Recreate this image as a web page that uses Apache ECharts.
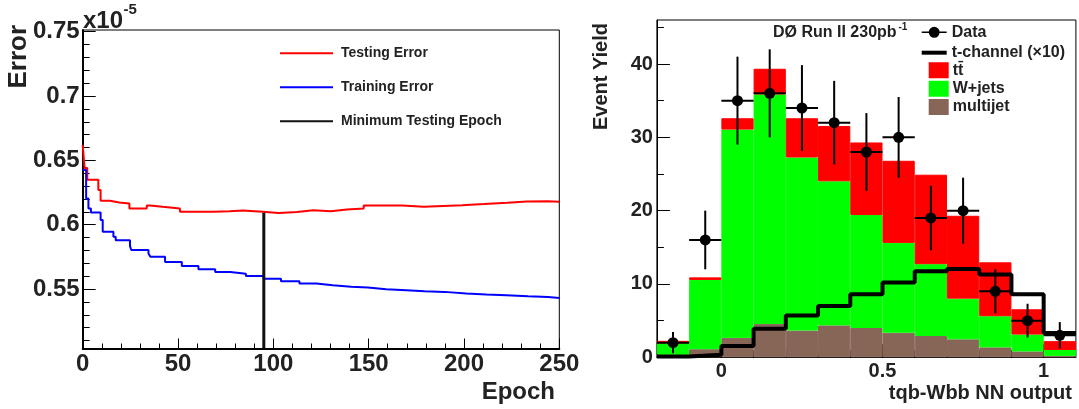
<!DOCTYPE html>
<html>
<head>
<meta charset="utf-8">
<script src="https://cdn.jsdelivr.net/npm/echarts@6/dist/echarts.min.js"></script>
<style>
  html, body { margin: 0; padding: 0; background: #fff; }
  #chart { width: 1079px; height: 409px; }
</style>
</head>
<body>
<div id="chart"></div>
<script>
// ---- left panel: NN training history (values in units of 1e-5)
const testEpoch = [0, 1, 2.4, 8.2, 9.4, 14.3, 19.2, 24.5, 33.6, 35.2, 42, 51, 68.6, 77, 84, 90, 94.5,
  102.7, 112.4, 121, 130.2, 138.6, 147.4, 167.5, 179, 199, 210.5, 222.7, 233, 244, 250];
const testError = [0.662, 0.644, 0.635, 0.627, 0.6186, 0.6173, 0.6165, 0.6126, 0.615, 0.6139, 0.6126, 0.6100,
  0.6105, 0.6110, 0.6105, 0.6100, 0.6090, 0.6098, 0.6113, 0.6105, 0.6118, 0.6126, 0.6149, 0.6139, 0.6152,
  0.6160, 0.6170, 0.6180, 0.6183, 0.6178, 0.6178];
const trainEpoch = [0, 1.8, 3.0, 4.3, 9.4, 10.5, 16.1, 17.3, 24.8, 25.5, 34.5, 35.5, 43.2, 52, 60.7, 69.5,
  77.4, 85.6, 94.9, 104, 113.7, 122.5, 131.2, 140.8, 149.6, 159.2, 169.7, 179.3, 189.8, 201.2, 211.7, 222.2,
  233.6, 244.1, 250];
const trainError = [0.6425, 0.6204, 0.6126, 0.6095, 0.6036, 0.5945, 0.5906, 0.588, 0.5834, 0.5803, 0.5777,
  0.5751, 0.5710, 0.5679, 0.5653, 0.5632, 0.5619, 0.5601, 0.5580, 0.5561, 0.5543, 0.5530, 0.5517, 0.5512,
  0.5499, 0.5491, 0.5483, 0.5478, 0.5465, 0.5457, 0.5452, 0.5444, 0.5439, 0.5431, 0.5431];
const minEpoch = 95;
const minTestError = 0.6093;
const errorRange = [0.5038, 0.7513];
const errorTicks = [0.55, 0.6, 0.65, 0.7, 0.75];
const errorMinorTicks = [0.51, 0.52, 0.53, 0.54, 0.56, 0.57, 0.58, 0.59, 0.61, 0.62, 0.63, 0.64,
  0.66, 0.67, 0.68, 0.69, 0.71, 0.72, 0.73, 0.74];

// ---- right panel: NN output histogram
const binEdges = [-0.2, -0.1, 0, 0.1, 0.2, 0.3, 0.4, 0.5, 0.6, 0.7, 0.8, 0.9, 1.0, 1.1];
const binCenters = [-0.15, -0.05, 0.05, 0.15, 0.25, 0.35, 0.45, 0.55, 0.65, 0.75, 0.85, 0.95, 1.05];
const multijet = [0.35, 1.1, 2.65, 4.55, 3.65, 4.35, 4.0, 3.35, 2.9, 2.45, 1.35, 0.8, 0.2];
const wjets = [1.55, 9.45, 28.4, 31.3, 23.6, 19.65, 15.4, 12.25, 9.8, 5.55, 4.25, 2.3, 0.8];
const ttbar = [0.35, 0.35, 1.55, 3.5, 5.35, 7.55, 9.9, 11.2, 12.2, 11.3, 7.35, 3.45, 1.2];
const tchannel = [0.1, 0.35, 1.55, 3.9, 5.7, 7.0, 8.6, 10.2, 11.75, 12.05, 11.3, 8.6, 3.3];
const dataCounts = [2, 16, 35, 36, 34, 32, 28, 30, 19, 20, 9, 5, 3];
const dataErrors = [1.45, 4.0, 6.0, 6.0, 5.85, 5.7, 5.3, 5.5, 4.4, 4.5, 3.0, 2.3, 1.8];
const nnTicks = [0, 0.5, 1];
const nnMinorTicks = [-0.1, 0.1, 0.2, 0.3, 0.4, 0.6, 0.7, 0.8, 0.9];
const yieldTicks = [0, 10, 20, 30, 40];
const yieldMinorTicks = [5, 15, 25, 35, 45];

const FONT = '"Liberation Sans", Arial, sans-serif';
const INK = '#222';

const chart = echarts.init(document.getElementById('chart'), null, { renderer: 'canvas' });

const label = (size, margin, extra) => Object.assign({
  fontFamily: FONT, fontWeight: 'bold', fontSize: size, color: INK, margin: margin
}, extra || {});
const legendText = (size, extra) => Object.assign({
  fontFamily: FONT, fontWeight: 'bold', fontSize: size, lineHeight: size, color: INK
}, extra || {});

const option = {
  animation: false,
  backgroundColor: '#fff',
  grid: [
    { left: 82.7, right: 519.7, top: 30, bottom: 60.5, show: true, borderColor: '#000', borderWidth: 1,
      outerBoundsMode: 'none' },
    { left: 656.9, right: 3.1, top: 20, bottom: 51.7, show: true, borderColor: '#000', borderWidth: 1,
      outerBoundsMode: 'none' }
  ],
  xAxis: [
    { gridIndex: 0, type: 'value', min: 0, max: 250, interval: 50,
      axisLine: { onZero: false, lineStyle: { color: '#000', width: 2 } },
      axisTick: { inside: true, length: 10, lineStyle: { color: '#000' } },
      minorTick: { show: true, splitNumber: 5, length: 5, lineStyle: { color: '#000' } },
      axisLabel: label(24, 4),
      splitLine: { show: false } },
    { gridIndex: 1, type: 'value', min: -0.2, max: 1.1,
      axisLine: { onZero: false, lineStyle: { color: '#000', width: 1 } },
      axisTick: { inside: true, length: 13, customValues: nnTicks, lineStyle: { color: '#000' } },
      axisLabel: label(20, 4, { customValues: nnTicks }),
      splitLine: { show: false } },
    { gridIndex: 1, type: 'value', min: -0.2, max: 1.1, position: 'bottom', offset: 0,
      axisLine: { show: false, onZero: false },
      axisTick: { inside: true, length: 7, customValues: nnMinorTicks, lineStyle: { color: '#000' } },
      axisLabel: { show: false }, splitLine: { show: false } },
    // hidden category axis: one band per histogram bin, used by the stacked bars
    { gridIndex: 1, type: 'category', show: false, boundaryGap: true,
      data: binCenters.map(String) }
  ],
  yAxis: [
    { gridIndex: 0, type: 'value', min: errorRange[0], max: errorRange[1], position: 'left',
      axisLine: { show: true, onZero: false, lineStyle: { color: '#000', width: 2 } },
      axisTick: { show: true, inside: true, length: 13, customValues: errorTicks, lineStyle: { color: '#000' } },
      axisLabel: label(24, 3, { customValues: errorTicks, formatter: v => String(parseFloat(v.toFixed(2))) }),
      splitLine: { show: false } },
    { gridIndex: 0, type: 'value', min: errorRange[0], max: errorRange[1], position: 'left', offset: 0,
      axisLine: { show: false, onZero: false },
      axisTick: { show: true, inside: true, length: 7, customValues: errorMinorTicks, lineStyle: { color: '#000' } },
      axisLabel: { show: false }, splitLine: { show: false } },
    { gridIndex: 1, type: 'value', min: 0, max: 46, position: 'left',
      axisLine: { show: true, onZero: false, lineStyle: { color: '#000', width: 1 } },
      axisTick: { show: true, inside: true, length: 13, customValues: yieldTicks, lineStyle: { color: '#000' } },
      axisLabel: label(20, 4, { customValues: yieldTicks }),
      splitLine: { show: false } },
    { gridIndex: 1, type: 'value', min: 0, max: 46, position: 'left', offset: 0,
      axisLine: { show: false, onZero: false },
      axisTick: { show: true, inside: true, length: 7, customValues: yieldMinorTicks, lineStyle: { color: '#000' } },
      axisLabel: { show: false }, splitLine: { show: false } }
  ],
  legend: [
    { left: 280, top: 46.3, orient: 'vertical', padding: 0, itemWidth: 53, itemHeight: 2, itemGap: 20,
      selectedMode: false, icon: 'rect',
      textStyle: legendText(14, { padding: [0, 0, 0, 3] }),
      data: ['Testing Error', 'Training Error', 'Minimum Testing Epoch'] },
    { left: 921.7, top: 24.3, orient: 'vertical', padding: 0, itemWidth: 25, itemHeight: 12,
      selectedMode: false, textStyle: legendText(16),
      data: [{ name: 'Data', icon: 'path://M0,5.2H25V6.8H0ZM12.5,0.5A5.5,5.5,0,1,1,12.49,0.5Z' }] },
    { left: 921.7, top: 44.7, orient: 'vertical', padding: 0, itemWidth: 25, itemHeight: 4,
      selectedMode: false, icon: 'rect', textStyle: legendText(16),
      data: ['t-channel (\u00d710)'] },
    { left: 928.7, top: 62.3, orient: 'vertical', padding: 0, itemWidth: 18, itemHeight: 14, itemGap: 2.35,
      selectedMode: false, icon: 'rect', textStyle: legendText(16),
      data: ['tt\u0304', 'W+jets', 'multijet'] }
  ],
  graphic: [
    { type: 'text', x: 18.5, y: 25, rotation: Math.PI / 2,
      style: { text: 'Error', font: 'bold 26px ' + FONT, fill: INK, align: 'right', verticalAlign: 'middle' } },
    { type: 'text', x: 83, y: 21,
      style: { text: 'x10', font: 'bold 24px ' + FONT, fill: INK, align: 'left', verticalAlign: 'middle' } },
    { type: 'text', x: 123.5, y: 10,
      style: { text: '-5', font: 'bold 15px ' + FONT, fill: INK, align: 'left', verticalAlign: 'middle' } },
    { type: 'text', x: 555, y: 392,
      style: { text: 'Epoch', font: 'bold 24px ' + FONT, fill: INK, align: 'right', verticalAlign: 'middle' } },
    { type: 'text', x: 601.7, y: 23, rotation: Math.PI / 2,
      style: { text: 'Event Yield', font: 'bold 20px ' + FONT, fill: INK, align: 'right', verticalAlign: 'middle' } },
    { type: 'text', x: 1072, y: 393,
      style: { text: 'tqb-Wbb NN output', font: 'bold 20px ' + FONT, fill: INK, align: 'right', verticalAlign: 'middle' } },
    { type: 'text', x: 773, y: 32.5,
      style: { text: 'D\u00d8 Run II 230pb', font: 'bold 16px ' + FONT, fill: INK, align: 'left', verticalAlign: 'middle' } },
    { type: 'text', x: 898.5, y: 27,
      style: { text: '-1', font: 'bold 10px ' + FONT, fill: INK, align: 'left', verticalAlign: 'middle' } }
  ],
  series: [
    { name: 'Testing Error', type: 'line', xAxisIndex: 0, yAxisIndex: 0, step: 'end', symbol: 'none',
      lineStyle: { color: '#ff0000', width: 2 }, itemStyle: { color: '#ff0000' },
      data: testEpoch.map((e, i) => [e, testError[i]]) },
    { name: 'Training Error', type: 'line', xAxisIndex: 0, yAxisIndex: 0, step: 'end', symbol: 'none',
      lineStyle: { color: '#0000ff', width: 2 }, itemStyle: { color: '#0000ff' },
      data: trainEpoch.map((e, i) => [e, trainError[i]]) },
    { name: 'Minimum Testing Epoch', type: 'line', xAxisIndex: 0, yAxisIndex: 0, symbol: 'none',
      lineStyle: { color: '#111', width: 3 }, itemStyle: { color: '#111' },
      data: [[minEpoch, errorRange[0]], [minEpoch, minTestError]] },

    { name: 'multijet', type: 'bar', xAxisIndex: 3, yAxisIndex: 2, stack: 'mc', barCategoryGap: '0%',
      itemStyle: { color: '#876657', borderColor: '#876657', borderWidth: 1 }, data: multijet },
    { name: 'W+jets', type: 'bar', xAxisIndex: 3, yAxisIndex: 2, stack: 'mc', barCategoryGap: '0%',
      itemStyle: { color: '#00ff00', borderColor: '#00ff00', borderWidth: 1 }, data: wjets },
    { name: 'tt\u0304', type: 'bar', xAxisIndex: 3, yAxisIndex: 2, stack: 'mc', barCategoryGap: '0%',
      itemStyle: { color: '#ff0000', borderColor: '#ff0000', borderWidth: 1 }, data: ttbar },
    { name: 't-channel (\u00d710)', type: 'line', xAxisIndex: 1, yAxisIndex: 2, step: 'end', symbol: 'none',
      z: 5, lineStyle: { color: '#000', width: 4 }, itemStyle: { color: '#000' },
      data: tchannel.map((v, i) => [binEdges[i], v]).concat([[binEdges[binEdges.length - 1], tchannel[tchannel.length - 1]]]) },
    { name: 'Data', type: 'custom', xAxisIndex: 1, yAxisIndex: 2, z: 6,
      itemStyle: { color: '#000' },
      data: binCenters.map((c, i) => [c, dataCounts[i], dataErrors[i]]),
      renderItem: function (params, api) {
        const x = api.value(0), y = api.value(1), e = api.value(2);
        const c = api.coord([x, y]);
        const top = api.coord([x, y + e]);
        const bot = api.coord([x, Math.max(0, y - e)]);
        const l = api.coord([x - 0.05, y]);
        const r = api.coord([x + 0.05, y]);
        return { type: 'group', children: [
          { type: 'line', shape: { x1: c[0], y1: top[1], x2: c[0], y2: bot[1] }, style: { stroke: '#000', lineWidth: 2 } },
          { type: 'line', shape: { x1: l[0], y1: c[1], x2: r[0], y2: c[1] }, style: { stroke: '#000', lineWidth: 2 } },
          { type: 'circle', shape: { cx: c[0], cy: c[1], r: 5.5 }, style: { fill: '#000' } }
        ] };
      } }
  ]
};

chart.setOption(option);
</script>
</body>
</html>
